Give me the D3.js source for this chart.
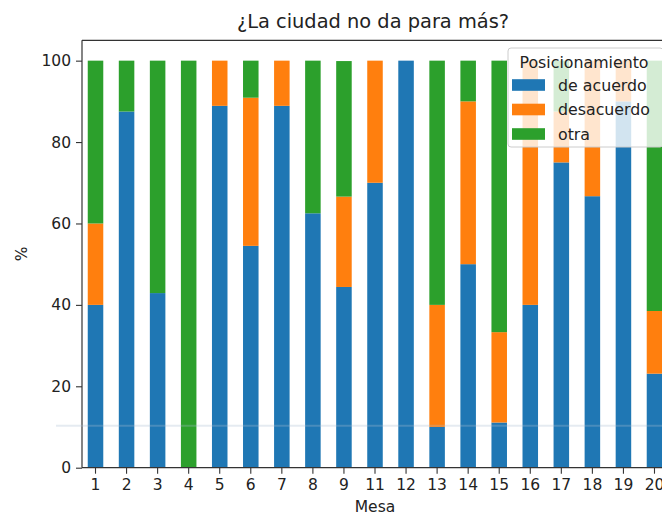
<!DOCTYPE html>
<html>
<head>
<meta charset="utf-8">
<script src="https://cdn.jsdelivr.net/npm/d3@7"></script>
<style>
  html, body { margin: 0; padding: 0; background: #fff; }
  svg { display: block; font-family: "DejaVu Sans", sans-serif; }
</style>
</head>
<body>
<svg id="chart" width="662" height="515"></svg>
<script>
// ---- data ----
const mesas = ["1","2","3","4","5","6","7","8","9","11","12","13","14","15","16","17","18","19","20"];
const deAcuerdo  = [40, 87.5, 42.9, 0, 88.9, 54.5, 88.9, 62.5, 44.4, 70, 100, 10, 50, 11.1, 40, 75, 66.7, 90, 23.1];
const desacuerdo = [20, 0, 0, 0, 11.1, 36.4, 11.1, 0, 22.2, 30, 0, 30, 40, 22.2, 60, 12.5, 33.3, 10, 15.4];
const otra       = [40, 12.5, 57.1, 100, 0, 9.1, 0, 37.5, 33.3, 0, 0, 60, 10, 66.7, 0, 12.5, 0, 0, 61.5];
const seriesNames = ["de acuerdo", "desacuerdo", "otra"];
const yTicks = [0, 20, 40, 60, 80, 100];
const titleText = "¿La ciudad no da para más?";
const legendTitle = "Posicionamiento";
const xLabel = "Mesa";
const yLabel = "%";

// ---- layout ----
const colors = ["#1f77b4", "#ff7f0e", "#2ca02c"];
const svg = d3.select("#chart");
const pLeft = 82, pRight = 668, pTop = 40.3, pBottom = 467.7;

const x = d3.scaleBand().domain(mesas).range([pLeft, pRight]).paddingInner(0.5).paddingOuter(0.185);
const y = d3.scaleLinear().domain([0, 105]).range([pBottom, pTop]);

const rows = mesas.map((m, i) => ({ mesa: m, "de acuerdo": deAcuerdo[i], "desacuerdo": desacuerdo[i], "otra": otra[i] }));
const stacked = d3.stack().keys(seriesNames)(rows);

// bars
const g = svg.append("g");
stacked.forEach((s, si) => {
  g.append("g").attr("fill", colors[si])
    .selectAll("rect").data(s).join("rect")
    .attr("x", d => x(d.data.mesa))
    .attr("width", x.bandwidth())
    .attr("y", d => y(d[1]))
    .attr("height", d => Math.max(0, y(d[0]) - y(d[1])));
});

// axes
const xAxis = svg.append("g").attr("transform", `translate(0,${pBottom})`)
  .call(d3.axisBottom(x).tickSize(6).tickPadding(5));
const yAxis = svg.append("g").attr("transform", `translate(${pLeft},0)`)
  .call(d3.axisLeft(y).tickValues(yTicks).tickSize(6).tickPadding(5));
[xAxis, yAxis].forEach(a => {
  a.select(".domain").remove();
  a.selectAll(".tick line").attr("stroke", "#333").attr("stroke-width", 1.1);
  a.selectAll(".tick text").attr("fill", "#222").style("font-size", "15.5px").style("font-family", "DejaVu Sans");
});

// spines
const spine = (x1, y1, x2, y2) => svg.append("line").attr("x1", x1).attr("y1", y1).attr("x2", x2).attr("y2", y2)
  .attr("stroke", "#333").attr("stroke-width", 1.2);
spine(pLeft, pTop, pLeft, pBottom);
spine(pLeft, pBottom, pRight, pBottom);
spine(pLeft, pTop, pRight, pTop);
spine(pRight, pTop, pRight, pBottom);

// faint horizontal artifact line
svg.append("line").attr("x1", 56).attr("x2", 662).attr("y1", 425.7).attr("y2", 425.7)
  .attr("stroke", "rgb(170,190,210)").attr("stroke-opacity", 0.3).attr("stroke-width", 2);

// title & labels
svg.append("text").attr("x", (pLeft + pRight) / 2 - 2).attr("y", 28).attr("text-anchor", "middle")
  .attr("fill", "#222").style("font-size", "19.4px").text(titleText);
svg.append("text").attr("x", (pLeft + pRight) / 2).attr("y", 512).attr("text-anchor", "middle")
  .attr("fill", "#222").style("font-size", "15.5px").text(xLabel);
svg.append("text").attr("transform", `translate(27,${(pTop + pBottom) / 2}) rotate(-90)`).attr("text-anchor", "middle")
  .attr("fill", "#222").style("font-size", "15.5px").text(yLabel);

// legend
const lg = svg.append("g");
lg.append("rect").attr("x", 508).attr("y", 48).attr("width", 155).attr("height", 99).attr("rx", 3)
  .attr("fill", "#fff").attr("fill-opacity", 0.8).attr("stroke", "#ccc").attr("stroke-width", 1);
lg.append("text").attr("x", 584).attr("y", 67.5).attr("text-anchor", "middle").attr("fill", "#222")
  .style("font-size", "15.8px").text(legendTitle);
seriesNames.forEach((n, i) => {
  const cy = 85 + i * 24.5;
  lg.append("rect").attr("x", 512).attr("y", cy - 5.8).attr("width", 33).attr("height", 11.6).attr("fill", colors[i]);
  lg.append("text").attr("x", 558).attr("y", cy + 5.5).attr("fill", "#222").style("font-size", "15.8px").text(n);
});
</script>
</body>
</html>
